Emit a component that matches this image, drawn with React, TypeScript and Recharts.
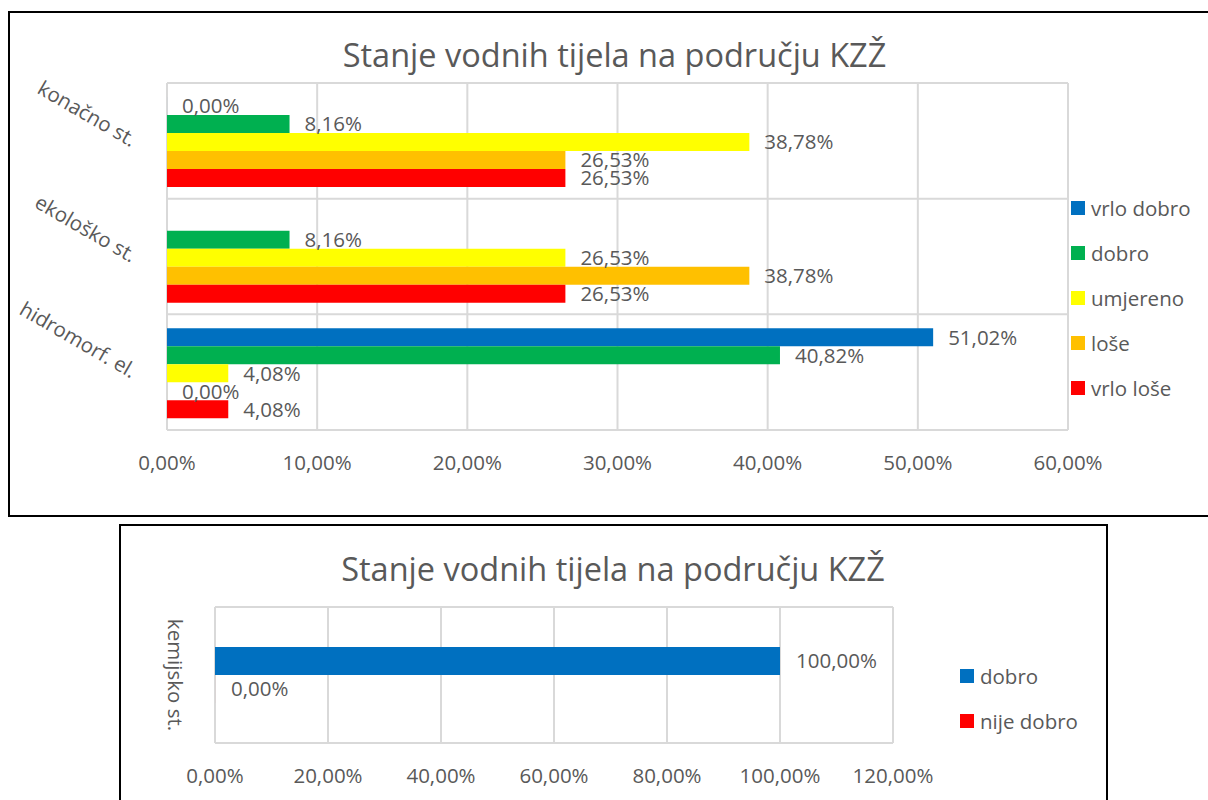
import React from 'react';
import { BarChart, Bar, XAxis, YAxis, CartesianGrid, LabelList, Legend } from 'recharts';

// ---------- top chart data ----------
const categories = ['konačno st.', 'ekološko st.', 'hidromorf. el.'];
const seriesNames = ['vrlo dobro', 'dobro', 'umjereno', 'loše', 'vrlo loše'];
const vrloDobro = [0, null, 51.02];
const dobro = [8.16, 8.16, 40.82];
const umjereno = [38.78, 26.53, 4.08];
const lose = [26.53, 38.78, 0];
const vrloLose = [26.53, 26.53, 4.08];
const topTicks = [0, 10, 20, 30, 40, 50, 60];
const topColors = ['#0070C0', '#00B050', '#FFFF00', '#FFC000', '#FF0000'];

// ---------- bottom chart data ----------
const chemCategories = ['kemijsko st.'];
const chemSeriesNames = ['dobro', 'nije dobro'];
const chemDobro = [100];
const chemNijeDobro = [0];
const bottomTicks = [0, 20, 40, 60, 80, 100, 120];
const chemColors = ['#0070C0', '#FF0000'];

const chartTitle = 'Stanje vodnih tijela na području KZŽ';

const FONT = '"Open Sans", sans-serif';
const TXT = '#595959';
const GRID = '#d9d9d9';

const topSeries = [vrloDobro, dobro, umjereno, lose, vrloLose];
const topData = categories.map((name, i) => {
  const row: any = { name };
  topSeries.forEach((s, k) => (row['s' + k] = s[i]));
  return row;
});
const chemSeries = [chemDobro, chemNijeDobro];
const chemData = chemCategories.map((name, i) => {
  const row: any = { name };
  chemSeries.forEach((s, k) => (row['s' + k] = s[i]));
  return row;
});

const fmt = (v: any) =>
  v === null || v === undefined ? '' : Number(v).toFixed(2).replace('.', ',') + '%';

const XTick = (props: any) => {
  const { x, y, payload } = props;
  return (
    <text x={x} y={y} dy={32} textAnchor="middle" fill={TXT} fontSize={20.5} fontFamily={FONT}>
      {fmt(payload.value)}
    </text>
  );
};

const TopYTick = (props: any) => {
  const { y, payload } = props;
  const ex = 131;
  const ey = y + 6.5;
  return (
    <text
      x={ex}
      y={ey}
      textAnchor="end"
      transform={`rotate(30 ${ex} ${ey})`}
      fill={TXT}
      fontSize={20.5}
      fontFamily={FONT}
    >
      {payload.value}
    </text>
  );
};

const BottomYTick = (props: any) => {
  const { y, payload } = props;
  const ex = 168;
  return (
    <text
      x={ex}
      y={y}
      textAnchor="middle"
      transform={`rotate(90 ${ex} ${y})`}
      fill={TXT}
      fontSize={20.5}
      fontFamily={FONT}
    >
      {payload.value}
    </text>
  );
};

const makeLegend = (order: string[]) => (props: any) => {
  const payload = [...(props.payload || [])].sort(
    (a: any, b: any) => order.indexOf(a.value) - order.indexOf(b.value)
  );
  return (
    <div>
      {payload.map((entry: any, i: number) => (
        <div key={i} style={{ display: 'flex', alignItems: 'center', height: 45, whiteSpace: 'nowrap' }}>
          <span style={{ display: 'inline-block', width: 14, height: 14, background: entry.color, marginRight: 6 }} />
          <span style={{ fontSize: 20.5, color: TXT, fontFamily: FONT }}>{entry.value}</span>
        </div>
      ))}
    </div>
  );
};

const bandLines = (n: number) => ({ offset }: any) => {
  const out: number[] = [];
  for (let i = 0; i <= n; i++) out.push(offset.top + (i * offset.height) / n);
  return out;
};

export default function App() {
  return (
    <div
      style={{
        position: 'absolute',
        left: 0,
        top: 0,
        width: 1208,
        height: 800,
        overflow: 'hidden',
        background: '#fff',
      }}
    >
      {/* top frame */}
      <div
        style={{
          position: 'absolute',
          left: 8,
          top: 11,
          width: 1300,
          height: 502,
          border: '2px solid #000',
        }}
      />
      {/* bottom frame */}
      <div
        style={{
          position: 'absolute',
          left: 119,
          top: 524,
          width: 985,
          height: 400,
          border: '2px solid #000',
        }}
      />

      <div style={{ position: 'absolute', left: 0, top: 0 }}>
        <BarChart
          width={1208}
          height={515}
          data={topData}
          layout="vertical"
          margin={{ top: 83, right: 140, bottom: 45, left: 0 }}
          barGap={0}
          barCategoryGap={14}
        >
          <CartesianGrid
            stroke={GRID}
            strokeWidth={2}
            horizontalCoordinatesGenerator={bandLines(categories.length)}
          />
          <XAxis
            type="number"
            domain={[0, 60]}
            ticks={topTicks}
            axisLine={false}
            tickLine={false}
            height={40}
            tick={<XTick />}
            interval={0}
          />
          <YAxis
            type="category"
            dataKey="name"
            width={167}
            axisLine={false}
            tickLine={false}
            tick={<TopYTick />}
            interval={0}
          />
          <Legend
            layout="vertical"
            align="center"
            verticalAlign="middle"
            content={makeLegend(seriesNames)}
            wrapperStyle={{ left: 1071, top: 185, width: 137 }}
          />
          {seriesNames.map((nm, k) => (
            <Bar
              key={nm}
              dataKey={'s' + k}
              name={nm}
              fill={topColors[k]}
              minPointSize={0.02}
              isAnimationActive={false}
            >
              <LabelList
                dataKey={'s' + k}
                position="right"
                offset={15}
                formatter={fmt}
                fill={TXT}
                fontSize={20.5}
                fontFamily={FONT}
              />
            </Bar>
          ))}
        </BarChart>
      </div>

      <div style={{ position: 'absolute', left: 0, top: 515 }}>
        <BarChart
          width={1208}
          height={285}
          data={chemData}
          layout="vertical"
          margin={{ top: 92, right: 315, bottom: 17, left: 0 }}
          barGap={0}
          barCategoryGap={40}
        >
          <CartesianGrid
            stroke={GRID}
            strokeWidth={2}
            horizontalCoordinatesGenerator={bandLines(chemCategories.length)}
          />
          <XAxis
            type="number"
            domain={[0, 120]}
            ticks={bottomTicks}
            axisLine={false}
            tickLine={false}
            height={40}
            tick={<XTick />}
            interval={0}
          />
          <YAxis
            type="category"
            dataKey="name"
            width={215}
            axisLine={false}
            tickLine={false}
            tick={<BottomYTick />}
            interval={0}
          />
          <Legend
            layout="vertical"
            align="center"
            verticalAlign="middle"
            content={makeLegend(chemSeriesNames)}
            wrapperStyle={{ left: 960, top: 138, width: 140 }}
          />
          {chemSeriesNames.map((nm, k) => (
            <Bar
              key={nm}
              dataKey={'s' + k}
              name={nm}
              fill={chemColors[k]}
              minPointSize={0.02}
              isAnimationActive={false}
            >
              <LabelList
                dataKey={'s' + k}
                position="right"
                offset={16}
                formatter={fmt}
                fill={TXT}
                fontSize={20.5}
                fontFamily={FONT}
              />
            </Bar>
          ))}
        </BarChart>
      </div>

      <svg
        width={1208}
        height={800}
        style={{ position: 'absolute', left: 0, top: 0, pointerEvents: 'none' }}
      >
        <text x={614.5} y={67} textAnchor="middle" fill={TXT} fontSize={32.5} fontFamily={FONT}>
          {chartTitle}
        </text>
        <text x={613} y={581} textAnchor="middle" fill={TXT} fontSize={32.5} fontFamily={FONT}>
          {chartTitle}
        </text>
      </svg>
    </div>
  );
}
